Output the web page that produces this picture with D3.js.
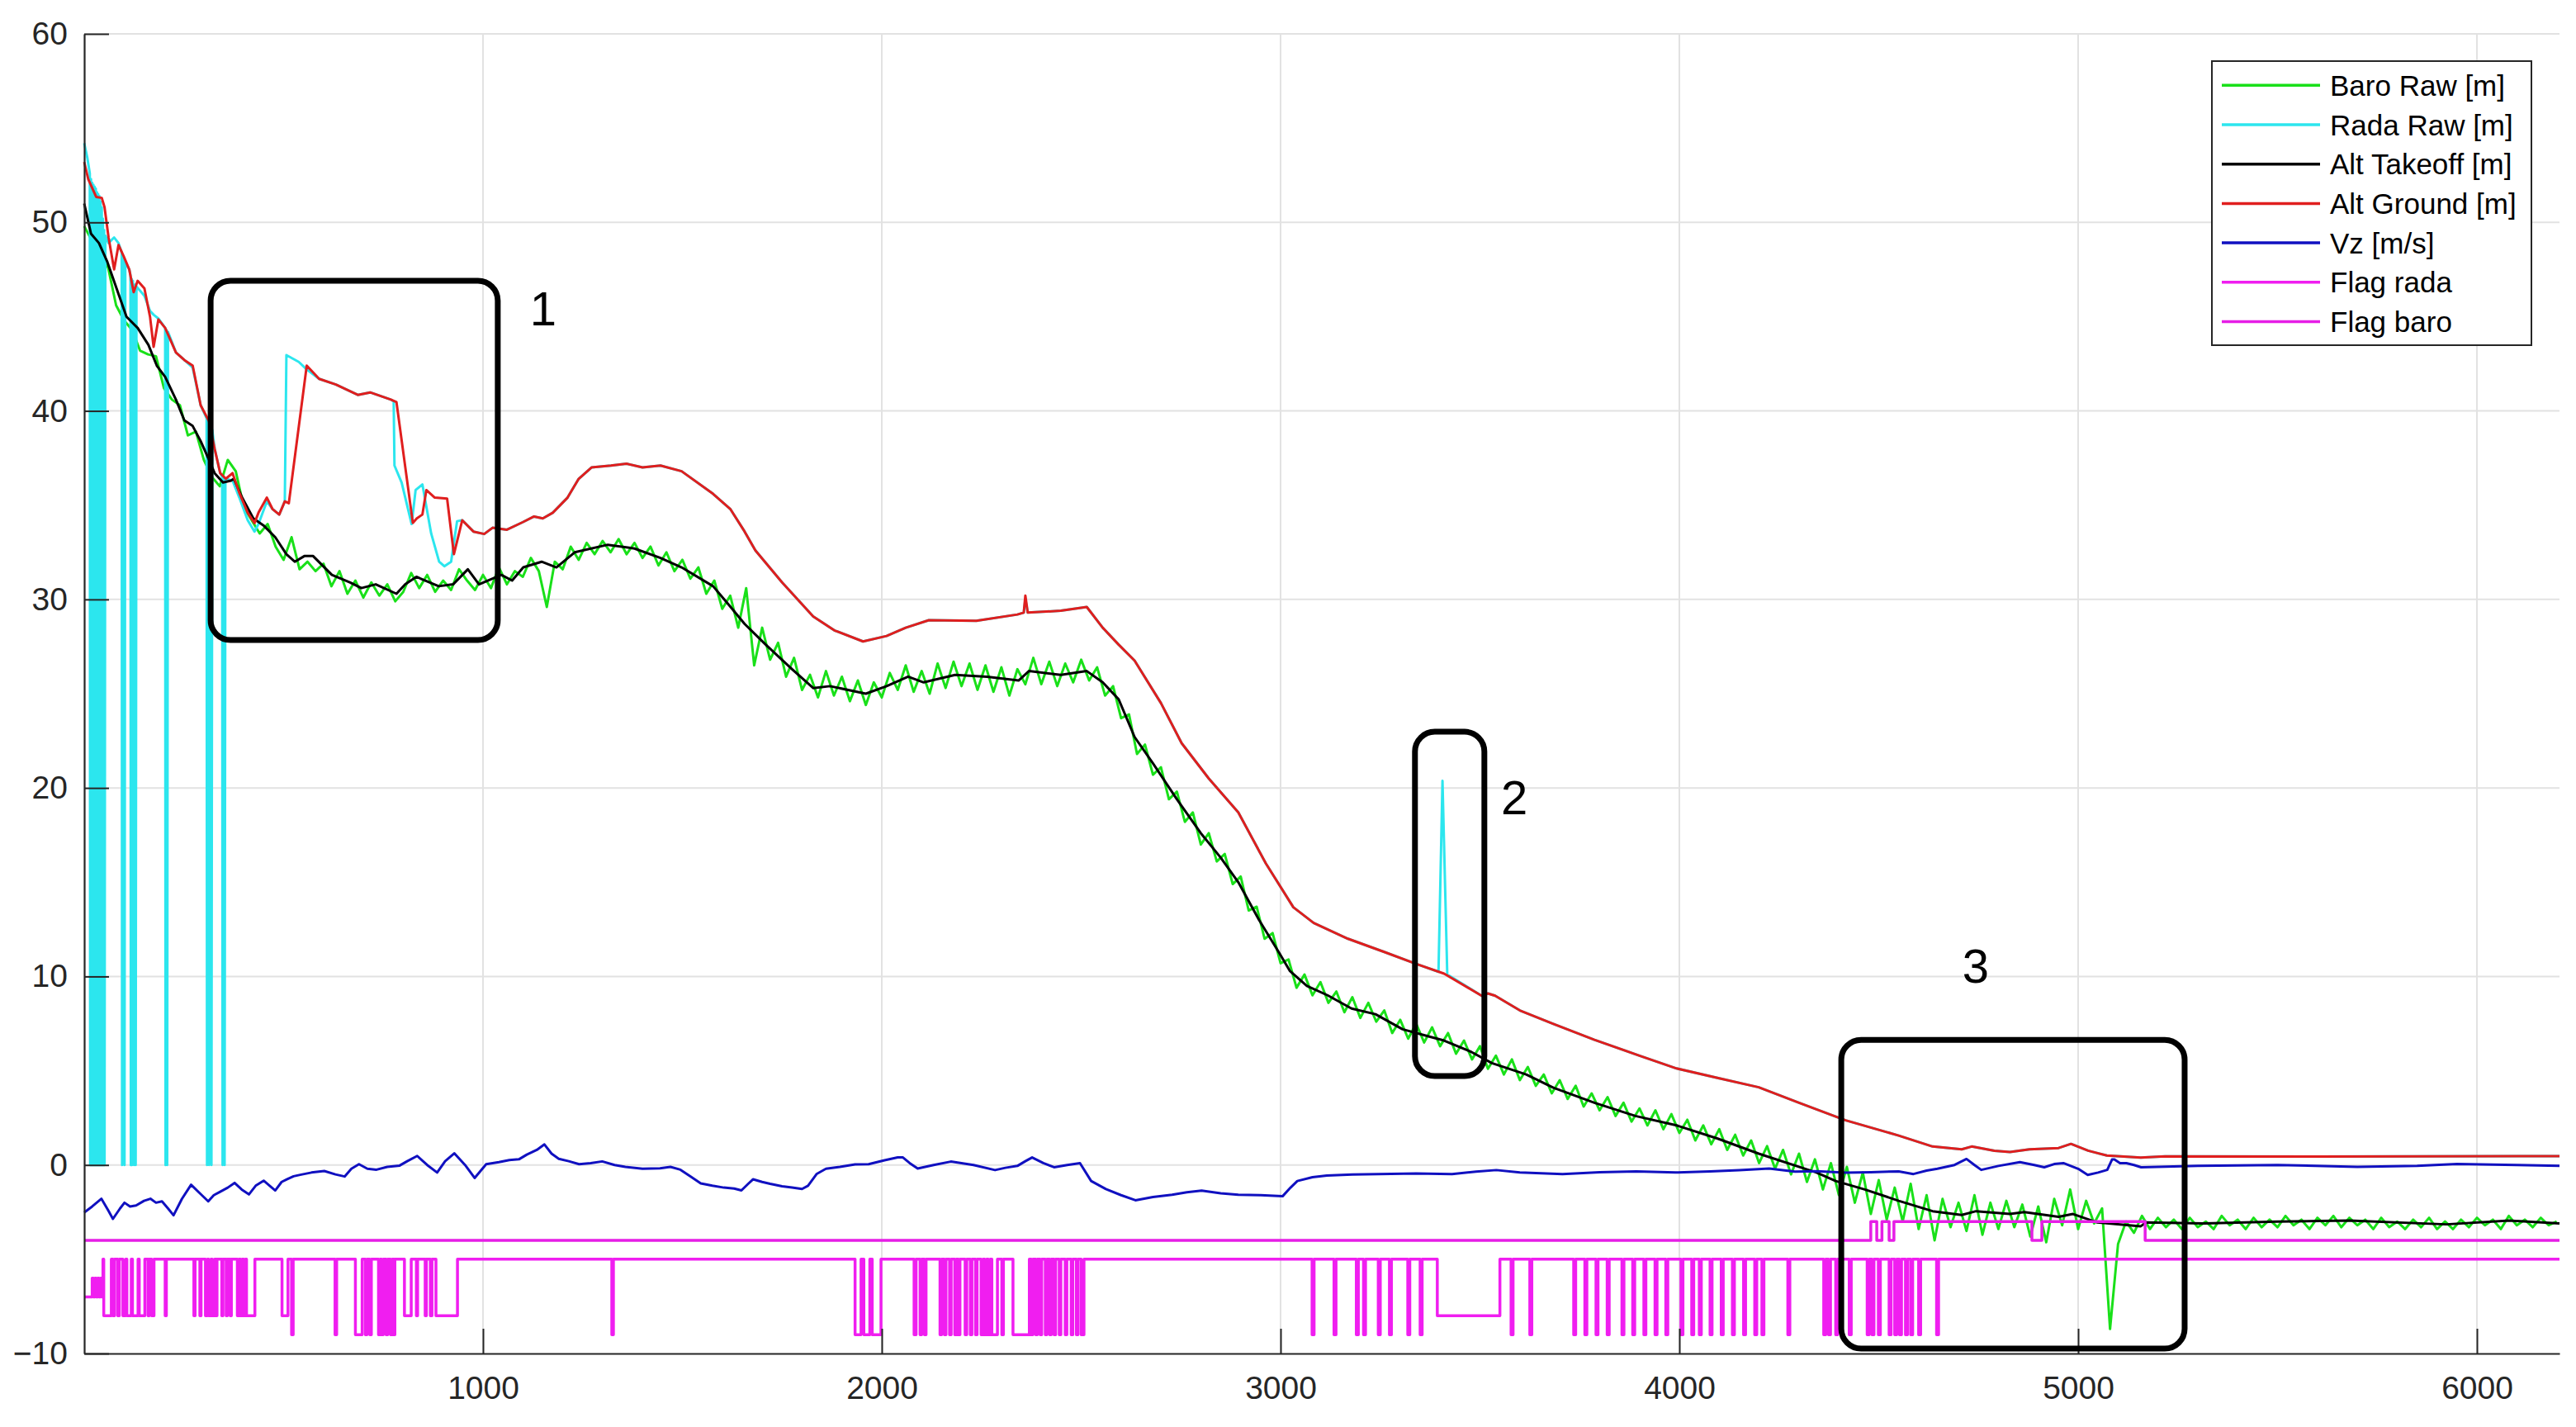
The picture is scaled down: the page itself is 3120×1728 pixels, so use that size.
<!DOCTYPE html>
<html>
<head>
<meta charset="utf-8">
<script src="https://cdn.jsdelivr.net/npm/d3@7"></script>
<style>
  body { margin: 0; background: #fff; }
  text { font-family: "Liberation Sans", Arial, Helvetica, sans-serif; }
</style>
</head>
<body>
<div class="canva"></div>
<script>
// ticks of the two axes
var xTicks = [1000, 2000, 3000, 4000, 5000, 6000];
var yTicks = [-10, 0, 10, 20, 30, 40, 50, 60];

// legend
var seriesNames = ["Baro Raw [m]", "Rada Raw [m]", "Alt Takeoff [m]", "Alt Ground [m]", "Vz [m/s]", "Flag rada", "Flag baro"];
var seriesColors = ["#19e019", "#2ce6ee", "#000000", "#e01e1e", "#1010c0", "#f01ef0", "#e61ee6"];

// baro raw, one value every 20 samples
var baroStep = 20;
var baroRaw = [
  49.8, 49.0, 48.2, 47.6, 45.6, 44.8, 44.3, 43.2, 43.0, 42.9, 41.2, 40.6, 40.3, 38.7, 38.9, 37.4, 36.5, 36.0, 37.4, 36.8,
  34.9, 34.2, 33.5, 34.0, 32.8, 32.1, 33.3, 31.6, 32.0, 31.5, 31.9, 30.7, 31.5, 30.3, 31.0, 30.1, 30.9, 30.2, 30.8, 29.9,
  30.4, 31.4, 30.6, 31.3, 30.4, 31.0, 30.5, 31.6, 31.0, 30.5, 31.3, 30.6, 31.7, 30.8, 31.5, 31.2, 32.2, 31.5, 29.6, 32.0,
  31.6, 32.8, 32.1, 33.0, 32.4, 33.1, 32.5, 33.2, 32.4, 33.0, 32.2, 32.8, 31.8, 32.5, 31.5, 32.1, 31.1, 31.7, 30.3, 31.0,
  29.5, 30.2, 28.5, 30.6, 26.5, 28.5, 26.8, 27.7, 25.9, 26.9, 25.2, 26.0, 24.8, 26.2, 24.9, 25.9, 24.6, 25.7, 24.4, 25.6,
  24.8, 26.1, 25.2, 26.5, 25.1, 26.2, 25.0, 26.6, 25.3, 26.7, 25.4, 26.6, 25.2, 26.5, 25.1, 26.4, 24.9, 26.3, 25.5, 26.9,
  25.5, 26.7, 25.4, 26.6, 25.6, 26.8, 25.7, 26.4, 24.9, 25.4, 23.7, 23.9, 21.8, 22.3, 20.7, 21.1, 19.4, 19.8, 18.2, 18.7,
  17.0, 17.6, 16.1, 16.5, 14.9, 15.3, 13.5, 13.7, 12.0, 12.3, 10.7, 10.9, 9.4, 10.1, 9.0, 9.7, 8.6, 9.2, 8.1, 8.9,
  7.8, 8.6, 7.6, 8.2, 7.0, 7.7, 6.7, 7.5, 6.5, 7.3, 6.3, 7.0, 5.9, 6.6, 5.6, 6.3, 5.1, 5.8, 4.8, 5.6,
  4.5, 5.2, 4.2, 4.8, 3.8, 4.5, 3.5, 4.2, 3.1, 3.8, 2.9, 3.6, 2.6, 3.3, 2.3, 3.0, 2.1, 2.9, 1.9, 2.7,
  1.7, 2.4, 1.3, 2.1, 1.1, 1.9, 0.8, 1.6, 0.5, 1.3, 0.1, 1.0, -0.2, 0.8, -0.5, 0.6, -0.9, 0.3, -1.3, 0.1,
  -1.6, -0.1, -2.0, -0.4, -2.6, -0.8, -2.9, -1.2, -3.0, -1.0, -3.4, -1.6, -4.0, -1.8, -3.3, -2.0, -3.5, -1.6, -3.7, -2.0,
  -3.4, -1.9, -3.3, -2.1, -3.8, -2.2, -4.1, -1.8, -3.2, -1.3, -3.4, -1.9, -3.1, -2.3, -8.7, -4.2, -3.0, -3.6, -2.7, -3.4,
  -2.8, -3.3, -2.9, -3.4, -2.8, -3.3, -3.0, -3.4, -2.7, -3.2, -2.9, -3.4, -2.8, -3.3, -2.9, -3.3, -2.7, -3.2, -2.9, -3.4,
  -2.8, -3.2, -2.7, -3.3, -2.8, -3.2, -2.9, -3.4, -2.8, -3.3, -3.0, -3.4, -2.9, -3.3, -2.8, -3.4, -3.0, -3.4, -2.9, -3.3,
  -2.8, -3.2, -2.9, -3.4, -2.7, -3.2, -2.9, -3.3, -2.8, -3.2, -3.0
];

// radar raw [sample, m]  (drops to 0 at the start, spike near 3400)
var radaRaw = [
  [0,54.2],[8,53.4],[14,52.6],[15,0],[17,52.3],[18,0],[20,52.1],[21,0],[23,52.0],[24,0],[26,51.9],[27,0],[29,51.8],[30,0],
  [32,51.6],[33,0],[35,51.5],[36,0],[38,51.4],[39,0],[41,51.1],[42,0],[44,50.8],[45,0],[47,50.2],[48,0],[50,49.6],[51,0],
  [53,49.3],[61,48.9],[75,49.2],[86,48.9],[94,48.4],[95,0],[97,48.2],[100,48.0],[101,0],[103,47.9],[113,47.5],[116,47.2],
  [117,0],[119,47.0],[120,0],[122,46.9],[125,0],[127,46.7],[129,0],[131,46.6],[151,46.1],[165,45.3],[174,45.1],[186,44.9],
  [203,44.4],[204,0],[206,44.3],[208,0],[210,44.2],[230,43.1],[251,42.7],[272,42.3],[292,40.3],[307,39.6],[308,0],[310,39.5],
  [313,0],[315,39.3],[319,0],[321,39.0],[327,38.0],[341,36.7],[346,36.5],[347,0],[349,36.4],[352,0],[354,36.4],[372,36.3],
  [389,35.4],[410,34.2],[427,33.6],[437,34.0],[458,35.2],[472,34.8],[489,34.5],[503,35.2],[507,42.96],[538,42.6],[558,42.2],
  [589,41.7],[631,41.4],[686,40.85],[717,40.98],[769,40.6],[776,40.5],[778,37.1],[796,36.2],[821,34.0],[831,35.8],[848,36.1],
  [870,33.5],[890,32.0],[903,31.76],[920,32.0],[935,34.15],[948,34.2],[976,33.6],[1003,33.47],[1024,33.8],[1060,33.7],
  [1100,34.1],[1128,34.4],[1150,34.3],[1175,34.6],[1212,35.4],[1240,36.4],[1272,37.0],[1321,37.1],[1360,37.2],[1400,37.0],
  [1445,37.1],[1498,36.8],[1577,35.6],[1620,34.8],[1656,33.6],[1683,32.6],[1750,30.9],[1828,29.1],[1881,28.36],[1953,27.77],
  [2012,28.06],[2060,28.5],[2118,28.9],[2237,28.87],[2340,29.2],[2356,29.3],[2360,30.0],[2366,29.3],[2449,29.4],[2514,29.6],
  [2554,28.5],[2594,27.6],[2634,26.75],[2700,24.5],[2752,22.37],[2820,20.5],[2894,18.7],[2963,16.0],[3032,13.67],[3083,12.84],
  [3169,12.0],[3260,11.3],[3341,10.66],[3396,10.25],[3406,20.38],[3418,10.1],[3504,8.98],[3520,9.1],[3538,8.98],[3600,8.2],
  [3684,7.48],[3787,6.64],[3900,5.8],[3993,5.12],[4100,4.6],[4199,4.12],[4300,3.3],[4344,2.95],[4417,2.37],[4550,1.56],
  [4635,0.98],[4708,0.83],[4733,0.98],[4790,0.75],[4829,0.69],[4878,0.83],[4951,0.9],[4982,1.12],[5025,0.76],[5072,0.5],
  [5157,0.39],[5218,0.46],[5600,0.45],[6207,0.47]
];

// altitude from takeoff (filtered)
var altTakeoff = [
  [0,51.0],[17,49.4],[37,48.9],[58,47.9],[86,46.2],[106,45.0],[134,44.4],[161,43.5],[182,42.4],[203,41.8],[230,40.6],
  [251,39.5],[272,39.2],[292,38.4],[313,37.4],[327,36.7],[348,36.2],[368,36.3],[375,36.4],[396,35.4],[424,34.3],[451,33.9],
  [479,33.3],[507,32.4],[528,32.0],[552,32.3],[574,32.3],[621,31.3],[667,30.9],[695,30.6],[731,30.8],[783,30.3],[805,30.8],
  [833,31.2],[889,30.7],[925,30.8],[962,31.6],[990,30.8],[1046,31.3],[1073,31.0],[1101,31.7],[1147,32.0],[1184,31.7],
  [1230,32.5],[1313,32.9],[1380,32.7],[1445,32.2],[1498,31.7],[1577,30.7],[1617,29.7],[1656,28.7],[1709,27.6],[1775,26.3],
  [1828,25.3],[1870,25.4],[1960,25.0],[2012,25.4],[2066,25.9],[2105,25.6],[2184,26.0],[2264,25.9],[2343,25.7],[2369,26.2],
  [2449,26.0],[2514,26.2],[2554,25.6],[2594,24.7],[2634,22.7],[2680,21.3],[2740,19.4],[2800,17.6],[2850,16.3],[2894,15.0],
  [2946,13.0],[2998,11.2],[3023,10.3],[3066,9.5],[3118,9.0],[3178,8.3],[3238,8.0],[3306,7.2],[3375,6.8],[3410,6.6],
  [3478,6.0],[3530,5.4],[3616,4.8],[3684,4.1],[3787,3.3],[3890,2.6],[3993,2.1],[4096,1.4],[4199,0.6],[4344,-0.4],
  [4392,-0.85],[4465,-1.3],[4550,-1.9],[4635,-2.45],[4708,-2.65],[4744,-2.45],[4829,-2.6],[4865,-2.5],[4951,-2.75],
  [4987,-2.6],[5048,-3.05],[5157,-3.25],[5170,-3.05],[5316,-3.1],[5500,-3.0],[5680,-2.95],[5923,-3.15],[6081,-2.95],[6207,-3.1]
];

// altitude above ground
var altGround = [
  [0,53.2],[10,52.3],[30,51.35],[44,51.3],[51,50.8],[61,49.2],[75,47.5],[86,48.8],[99,48.2],[113,47.5],[124,46.3],[134,46.9],
  [151,46.5],[165,45.0],[174,43.4],[186,44.85],[203,44.4],[230,43.1],[251,42.7],[272,42.4],[292,40.3],[313,39.45],[327,38.0],
  [341,36.7],[355,36.4],[372,36.7],[389,35.65],[410,34.6],[427,34.05],[437,34.6],[458,35.4],[472,34.8],[489,34.5],[503,35.2],
  [513,35.1],[558,42.4],[589,41.7],[631,41.4],[686,40.85],[717,40.98],[769,40.6],[783,40.47],[824,34.06],[834,34.3],[848,34.5],
  [858,35.8],[879,35.4],[910,35.35],[927,32.4],[948,34.2],[976,33.6],[1003,33.47],[1024,33.8],[1060,33.7],[1100,34.1],
  [1128,34.4],[1150,34.3],[1175,34.6],[1212,35.4],[1240,36.4],[1272,37.0],[1321,37.1],[1360,37.2],[1400,37.0],[1445,37.1],
  [1498,36.8],[1577,35.6],[1620,34.8],[1656,33.6],[1683,32.6],[1750,30.9],[1828,29.1],[1881,28.36],[1953,27.77],[2012,28.06],
  [2060,28.5],[2118,28.9],[2237,28.87],[2340,29.2],[2356,29.3],[2360,30.2],[2366,29.3],[2449,29.4],[2514,29.6],[2554,28.5],
  [2594,27.6],[2634,26.75],[2700,24.5],[2752,22.37],[2820,20.5],[2894,18.7],[2963,16.0],[3032,13.67],[3083,12.84],[3169,12.0],
  [3260,11.3],[3341,10.66],[3410,10.15],[3504,8.98],[3520,9.1],[3538,8.98],[3600,8.2],[3684,7.48],[3787,6.64],[3900,5.8],
  [3993,5.12],[4100,4.6],[4199,4.12],[4300,3.3],[4344,2.95],[4417,2.37],[4550,1.56],[4635,0.98],[4708,0.83],[4733,0.98],
  [4790,0.75],[4829,0.69],[4878,0.83],[4951,0.9],[4982,1.12],[5025,0.76],[5072,0.5],[5157,0.39],[5218,0.46],[5600,0.45],[6207,0.47]
];

// vertical speed
var vz = [
  [0,-2.52],[20,-2.2],[43,-1.79],[60,-2.4],[72,-2.86],[90,-2.3],[101,-2.0],[115,-2.2],[130,-2.15],[150,-1.9],[166,-1.79],
  [180,-2.0],[195,-1.93],[210,-2.3],[224,-2.67],[245,-1.8],[268,-1.05],[290,-1.5],[311,-1.93],[325,-1.6],[341,-1.42],
  [360,-1.2],[377,-0.95],[395,-1.3],[413,-1.56],[430,-1.1],[450,-0.83],[465,-1.1],[479,-1.35],[495,-0.9],[508,-0.76],
  [525,-0.6],[544,-0.51],[570,-0.4],[602,-0.32],[630,-0.5],[653,-0.61],[670,-0.2],[689,0.04],[710,-0.2],[733,-0.25],
  [760,-0.1],[791,-0.03],[810,0.2],[835,0.48],[860,0.0],[885,-0.4],[905,0.2],[928,0.62],[955,0.0],[979,-0.69],[1008,0.04],
  [1040,0.15],[1066,0.26],[1090,0.3],[1110,0.55],[1135,0.8],[1154,1.09],[1172,0.6],[1190,0.33],[1215,0.2],[1241,0.04],
  [1270,0.1],[1299,0.19],[1330,0.0],[1357,-0.1],[1400,-0.2],[1444,-0.18],[1470,-0.1],[1495,-0.25],[1520,-0.6],[1546,-0.98],
  [1575,-1.1],[1604,-1.2],[1630,-1.25],[1648,-1.35],[1665,-1.0],[1677,-0.76],[1700,-0.9],[1720,-1.0],[1750,-1.13],
  [1775,-1.2],[1800,-1.27],[1815,-1.1],[1837,-0.47],[1860,-0.2],[1895,-0.1],[1933,0.03],[1967,0.04],[2007,0.25],[2040,0.4],
  [2053,0.4],[2070,0.1],[2090,-0.19],[2130,0.0],[2173,0.18],[2230,0.0],[2284,-0.27],[2310,-0.15],[2340,-0.05],[2360,0.2],
  [2377,0.4],[2405,0.1],[2432,-0.12],[2465,0.0],[2497,0.1],[2525,-0.85],[2562,-1.28],[2600,-1.6],[2636,-1.87],[2680,-1.7],
  [2728,-1.58],[2765,-1.45],[2802,-1.36],[2850,-1.5],[2894,-1.58],[2950,-1.6],[3005,-1.66],[3025,-1.2],[3042,-0.85],
  [3080,-0.65],[3116,-0.56],[3180,-0.5],[3245,-0.48],[3340,-0.45],[3430,-0.48],[3490,-0.35],[3541,-0.27],[3600,-0.4],
  [3707,-0.48],[3800,-0.38],[3892,-0.34],[3990,-0.4],[4077,-0.34],[4150,-0.28],[4225,-0.19],[4290,-0.35],[4344,-0.33],
  [4417,-0.41],[4480,-0.38],[4550,-0.34],[4587,-0.48],[4620,-0.3],[4647,-0.2],[4690,0.0],[4720,0.32],[4740,0.0],
  [4757,-0.26],[4800,-0.05],[4854,0.15],[4890,0.0],[4915,-0.12],[4940,0.05],[4963,0.1],[5000,-0.2],[5024,-0.53],
  [5050,-0.4],[5073,-0.26],[5085,0.29],[5091,0.29],[5105,0.1],[5121,0.1],[5140,0.0],[5158,-0.12],[5300,-0.05],[5500,0.0],
  [5700,-0.1],[5850,-0.05],[5950,0.05],[6100,0.0],[6207,-0.05]
];

// radar flag (step values)
var flagRada = [
  [0,-7],[20,-6],[23,-7],[27,-6],[30,-7],[34,-6],[37,-7],[41,-6],[44,-7],[47,-5],[49,-8],[68,-5],[72,-8],[76,-5],[84,-8],
  [88,-5],[97,-8],[104,-5],[107,-8],[118,-5],[121,-8],[135,-5],[138,-8],[152,-5],[160,-8],[163,-5],[169,-8],[175,-5],
  [203,-8],[206,-5],[275,-8],[278,-5],[290,-8],[293,-5],[304,-8],[309,-5],[312,-8],[318,-5],[321,-8],[327,-5],[330,-8],
  [333,-5],[345,-8],[348,-5],[356,-8],[359,-5],[366,-8],[369,-5],[384,-8],[388,-5],[392,-8],[396,-5],[400,-8],[404,-5],
  [407,-8],[428,-5],[496,-8],[511,-5],[520,-9],[524,-5],[629,-9],[633,-5],[680,-9],[697,-5],[705,-9],[709,-5],[716,-9],
  [720,-5],[738,-9],[742,-5],[746,-9],[750,-5],[757,-9],[761,-5],[768,-9],[772,-5],[776,-9],[779,-5],[803,-8],[820,-5],
  [833,-8],[836,-5],[855,-8],[858,-5],[868,-8],[872,-5],[882,-8],[936,-5],[1323,-9],[1327,-5],
  [1933,-9],[1948,-5],[1955,-9],[1970,-5],[1976,-9],[1998,-5],
  [2081,-9],[2086,-5],[2096,-9],[2100,-5],[2107,-9],[2111,-5],[2146,-9],[2150,-5],[2157,-9],[2161,-5],[2170,-9],[2174,-5],
  [2183,-9],[2187,-5],[2192,-9],[2196,-5],[2209,-9],[2213,-5],[2222,-9],[2226,-5],[2235,-9],[2239,-5],[2249,-9],[2254,-5],
  [2258,-9],[2263,-5],[2267,-9],[2272,-5],[2276,-9],[2290,-5],[2301,-9],[2305,-5],[2329,-9],[2370,-5],[2375,-9],[2379,-5],
  [2386,-9],[2390,-5],[2397,-9],[2401,-5],[2410,-9],[2414,-5],[2421,-9],[2425,-5],[2432,-9],[2436,-5],[2445,-9],[2449,-5],
  [2460,-9],[2464,-5],[2475,-9],[2479,-5],[2488,-9],[2492,-5],[2500,-9],[2507,-5],
  [3079,-9],[3084,-5],[3134,-9],[3139,-5],[3190,-9],[3195,-5],[3208,-9],[3213,-5],[3245,-9],[3250,-5],[3273,-9],[3278,-5],
  [3319,-9],[3324,-5],[3350,-9],[3355,-5],[3393,-8],[3550,-5],
  [3578,-9],[3583,-5],[3625,-9],[3630,-5],[3735,-9],[3740,-5],[3763,-9],[3768,-5],[3791,-9],[3796,-5],[3819,-9],[3824,-5],
  [3856,-9],[3861,-5],[3883,-9],[3888,-5],[3911,-9],[3916,-5],[3939,-9],[3944,-5],[3966,-9],[3971,-5],[4004,-9],[4009,-5],
  [4031,-9],[4036,-5],[4050,-9],[4055,-5],[4077,-9],[4082,-5],[4105,-9],[4110,-5],[4133,-9],[4138,-5],[4161,-9],[4166,-5],
  [4189,-9],[4194,-5],[4207,-9],[4212,-5],[4272,-9],[4277,-5],[4362,-9],[4367,-5],[4374,-9],[4379,-5],[4392,-9],[4397,-5],
  [4426,-9],[4431,-5],[4471,-9],[4476,-5],[4483,-9],[4488,-5],[4499,-9],[4504,-5],[4526,-9],[4531,-5],[4540,-9],[4545,-5],
  [4552,-9],[4557,-5],[4567,-9],[4572,-5],[4580,-9],[4585,-5],[4600,-9],[4605,-5],[4645,-9],[4650,-5],[6207,-5]
];

// baro flag (step values)
var flagBaro = [[0,-4],[4480,-3],[4495,-4],[4508,-3],[4526,-4],[4538,-3],[4884,-4],[4909,-3],[5168,-4],[6207,-4]];

// hand drawn boxes round the three events
var boxX0 = [317, 3337, 4406];
var boxX1 = [1037, 3511, 5267];
var boxY0 = [27.85, 4.72, -9.74];
var boxY1 = [46.9, 22.98, 6.64];
var boxLabels = ["1", "2", "3"];
var labelX = [1151, 3586, 4743];
var labelY = [45.45, 19.5, 10.6];

var W = 3120, H = 1728;
var margin = {top: 41, right: 20, bottom: 89, left: 102};

var svg = d3.select(".canva")
  .append("svg")
    .attr("width", W)
    .attr("height", H);

svg.append("rect").attr("width", W).attr("height", H).attr("fill", "#fff");

var x = d3.scaleLinear().domain([0, 6207]).range([margin.left, W - margin.right]);
var y = d3.scaleLinear().domain([-10, 60]).range([H - margin.bottom, margin.top]);

// grid
var grid = svg.append("g");
grid.selectAll("vline")
  .data(xTicks)
  .enter()
  .append("line")
    .attr("x1", function(d) { return x(d); })
    .attr("x2", function(d) { return x(d); })
    .attr("y1", y(-10))
    .attr("y2", y(60))
    .attr("stroke", "#e2e2e2")
    .attr("stroke-width", 2);
grid.selectAll("hline")
  .data(yTicks.filter(function(d) { return d > -10; }))
  .enter()
  .append("line")
    .attr("x1", x(0))
    .attr("x2", x(6207))
    .attr("y1", function(d) { return y(d); })
    .attr("y2", function(d) { return y(d); })
    .attr("stroke", "#e2e2e2")
    .attr("stroke-width", 2);

// lines
var line = d3.line()
  .x(function(d) { return x(d[0]); })
  .y(function(d) { return y(d[1]); });
var stepLine = d3.line()
  .x(function(d) { return x(d[0]); })
  .y(function(d) { return y(d[1]); })
  .curve(d3.curveStepAfter);

var baroPts = baroRaw.map(function(v, i) { return [i * baroStep, v]; });

var plotted = [
  {data: baroPts, gen: line, w: 3},
  {data: radaRaw, gen: line, w: 3},
  {data: altTakeoff, gen: line, w: 3},
  {data: altGround, gen: line, w: 3},
  {data: vz, gen: line, w: 3},
  {data: flagRada, gen: stepLine, w: 3.5},
  {data: flagBaro, gen: stepLine, w: 3.5}
];

plotted.forEach(function(p, i) {
  svg.append("path")
    .attr("d", p.gen(p.data))
    .attr("fill", "none")
    .attr("stroke", seriesColors[i])
    .attr("stroke-width", p.w)
    .attr("stroke-linejoin", "round");
});

// axes
var yAxis = svg.append("g")
  .attr("transform", "translate(" + margin.left + ",0)")
  .call(d3.axisLeft(y).tickValues(yTicks).tickSize(-30).tickSizeOuter(0).tickPadding(20).tickFormat(d3.format("d")));
var xAxis = svg.append("g")
  .attr("transform", "translate(0," + (H - margin.bottom) + ")")
  .call(d3.axisBottom(x).tickValues(xTicks).tickSize(-30).tickSizeOuter(0).tickPadding(27).tickFormat(d3.format("d")));

[xAxis, yAxis].forEach(function(a) {
  a.attr("font-size", 39).attr("font-family", '"Liberation Sans", Arial, sans-serif');
  a.select(".domain").attr("stroke", "#262626").attr("stroke-width", 2.2);
  a.selectAll(".tick line").attr("stroke", "#262626").attr("stroke-width", 2);
  a.selectAll(".tick text").attr("fill", "#262626");
});

// annotation boxes
boxLabels.forEach(function(lab, i) {
  svg.append("rect")
    .attr("x", x(boxX0[i]))
    .attr("y", y(boxY1[i]))
    .attr("width", x(boxX1[i]) - x(boxX0[i]))
    .attr("height", y(boxY0[i]) - y(boxY1[i]))
    .attr("rx", 24)
    .attr("ry", 24)
    .attr("fill", "none")
    .attr("stroke", "#000")
    .attr("stroke-width", 7);
  svg.append("text")
    .attr("x", x(labelX[i]))
    .attr("y", y(labelY[i]))
    .attr("dy", "0.36em")
    .attr("text-anchor", "middle")
    .attr("font-size", 58)
    .attr("fill", "#000")
    .text(lab);
});

// legend
var legend = svg.append("g");
legend.append("rect")
  .attr("x", 2679).attr("y", 74)
  .attr("width", 387).attr("height", 344)
  .attr("fill", "#fff")
  .attr("stroke", "#262626")
  .attr("stroke-width", 2);
seriesNames.forEach(function(name, i) {
  var ly = 103.3 + i * 47.7;
  legend.append("line")
    .attr("x1", 2691).attr("x2", 2810)
    .attr("y1", ly).attr("y2", ly)
    .attr("stroke", seriesColors[i])
    .attr("stroke-width", 3.5);
  legend.append("text")
    .attr("x", 2822).attr("y", ly)
    .attr("dy", "0.36em")
    .attr("font-size", 35)
    .attr("fill", "#000")
    .text(name);
});
</script>
</body>
</html>
